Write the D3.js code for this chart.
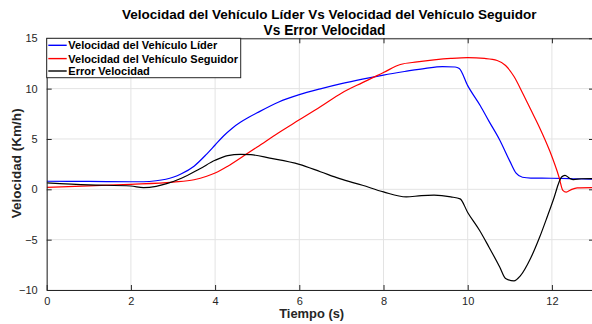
<!DOCTYPE html>
<html><head><meta charset="utf-8">
<script src="https://cdn.jsdelivr.net/npm/d3@7"></script>
<style>body{margin:0;background:#fff}svg{display:block}text{font-family:"Liberation Sans",Arial,Helvetica,sans-serif}</style>
</head><body><svg id="c" width="592" height="324"></svg>
<script>
// ---- data ----
const titleLines = ["Velocidad del Vehículo Líder Vs Velocidad del Vehículo Seguidor", "Vs Error Velocidad"];
const xLabel = "Tiempo (s)";
const yLabel = "Velocidad (Km/h)";
const seriesNames = ["Velocidad del Vehículo Líder", "Velocidad del Vehículo Seguidor", "Error Velocidad"];
const xTicks = [0, 2, 4, 6, 8, 10, 12];
const yTicks = [-10, -5, 0, 5, 10, 15];

const leaderT = [0, 1, 2, 2.3, 2.6, 3.0, 3.2, 3.5, 3.8, 4.0, 4.2, 4.4, 4.6, 4.8, 5.0, 5.5, 6.0, 6.5, 7.0, 7.5, 8.0, 8.5, 9.0, 9.4, 9.7, 9.8, 10.0, 10.3, 10.5, 10.76, 11.0, 11.15, 11.3, 11.5, 12.0, 12.5, 13.0];
const leaderV = [0.8, 0.78, 0.75, 0.75, 0.85, 1.2, 1.55, 2.3, 3.5, 4.4, 5.3, 6.05, 6.65, 7.15, 7.6, 8.65, 9.4, 9.98, 10.5, 10.95, 11.35, 11.7, 12.02, 12.18, 12.15, 12.0, 10.3, 8.3, 6.8, 4.9, 2.8, 1.6, 1.2, 1.12, 1.1, 1.05, 1.0];

const followerT = [0, 1, 2, 3, 3.5, 3.8, 4.0, 4.3, 4.7, 5.0, 5.5, 6.0, 6.5, 7.0, 7.5, 8.0, 8.4, 8.8, 9.2, 9.6, 10.0, 10.4, 10.7, 10.9, 11.1, 11.3, 11.5, 11.7, 11.95, 12.17, 12.26, 12.34, 12.45, 12.6, 13.0];
const followerV = [0.2, 0.35, 0.5, 0.72, 0.95, 1.3, 1.62, 2.3, 3.38, 4.2, 5.6, 6.9, 8.2, 9.55, 10.6, 11.6, 12.4, 12.65, 12.85, 13.0, 13.08, 13.0, 12.8, 12.3, 11.2, 9.6, 7.9, 6.2, 3.8, 1.2, -0.1, -0.28, -0.05, 0.15, 0.17];

const errorT = [0, 1, 2, 2.3, 2.6, 2.85, 3.2, 3.64, 4.0, 4.3, 4.6, 4.85, 5.3, 6.0, 6.5, 6.96, 7.5, 8.0, 8.54, 8.9, 9.2, 9.6, 9.82, 10.0, 10.28, 10.5, 10.76, 10.9, 11.1, 11.25, 11.5, 11.71, 11.9, 12.03, 12.23, 12.31, 12.42, 12.51, 12.7, 13.0];
const errorV = [0.65, 0.45, 0.33, 0.17, 0.3, 0.56, 1.1, 2.05, 2.88, 3.35, 3.47, 3.44, 3.1, 2.48, 1.75, 1.06, 0.4, -0.26, -0.76, -0.62, -0.58, -0.75, -0.95, -2.3, -4.07, -5.7, -7.71, -8.85, -9.1, -8.6, -6.8, -4.74, -2.6, -1.09, 1.22, 1.39, 1.1, 0.96, 1.05, 1.06];

const colors = ["#0000ff", "#ff0000", "#000000"];

// ---- layout ----
const svg = d3.select("#c");
const L = 46.7, R = 594, T = 38.3, B = 290;
const x = d3.scaleLinear().domain([0, 13]).range([L, R]);
const y = d3.scaleLinear().domain([-10, 15]).range([B, T]);
const axisCol = "#262626";

// grid
const g = svg.append("g");
g.selectAll(".gx").data(xTicks).enter().append("line")
  .attr("x1", d => x(d)).attr("x2", d => x(d)).attr("y1", T).attr("y2", B)
  .attr("stroke", "#e3e3e3").attr("stroke-width", 1);
g.selectAll(".gy").data(yTicks).enter().append("line")
  .attr("y1", d => y(d)).attr("y2", d => y(d)).attr("x1", L).attr("x2", R)
  .attr("stroke", "#e3e3e3").attr("stroke-width", 1);

// clip
svg.append("clipPath").attr("id", "clip").append("rect")
  .attr("x", L).attr("y", T).attr("width", R - L).attr("height", B - T);

const line = d3.line().x(d => x(d[0])).y(d => y(d[1])).curve(d3.curveMonotoneX);
const series = [d3.zip(leaderT, leaderV), d3.zip(followerT, followerV), d3.zip(errorT, errorV)];
const plot = svg.append("g").attr("clip-path", "url(#clip)");
series.forEach((s, i) => {
  plot.append("path").attr("d", line(s)).attr("fill", "none")
    .attr("stroke", colors[i]).attr("stroke-width", 1.2);
});

// axes (ticks inward, box)
function styleAxis(sel) {
  sel.select(".domain").attr("stroke", axisCol);
  sel.selectAll(".tick line").attr("stroke", axisCol);
  sel.selectAll(".tick text").attr("fill", axisCol).style("font-size", "11px")
    .style("font-family", '"Liberation Sans",Arial,sans-serif');
}
const ax = svg.append("g").attr("transform", `translate(0,${B})`)
  .call(d3.axisBottom(x).tickValues(xTicks).tickSizeInner(-5).tickSizeOuter(0).tickPadding(7).tickFormat(d3.format("d")));
styleAxis(ax);
ax.selectAll(".tick text").attr("dy", "0.71em");
const axTop = svg.append("g").attr("transform", `translate(0,${T})`)
  .call(d3.axisTop(x).tickValues(xTicks).tickSizeInner(-5).tickSizeOuter(0).tickFormat(""));
styleAxis(axTop);
const ay = svg.append("g").attr("transform", `translate(${L},0)`)
  .call(d3.axisLeft(y).tickValues(yTicks).tickSizeInner(-5).tickSizeOuter(0).tickPadding(9).tickFormat(d3.format("d")));
styleAxis(ay);
const ayR = svg.append("g").attr("transform", `translate(${R},0)`)
  .call(d3.axisRight(y).tickValues(yTicks).tickSizeInner(-5).tickSizeOuter(0).tickFormat(""));
styleAxis(ayR);

// fit text helper
function fit(t, w, base) {
  t.style("font-size", base + "px");
  const len = t.node().getComputedTextLength();
  t.style("font-size", (base * w / len) + "px");
  return t;
}

// title
const tl1 = svg.append("text").attr("x", 329.2).attr("y", 19).attr("text-anchor", "middle")
  .attr("font-weight", "bold").attr("fill", "#000").text(titleLines[0]);
fit(tl1, 415, 13);
const tl2 = svg.append("text").attr("x", 324.5).attr("y", 35).attr("text-anchor", "middle")
  .attr("font-weight", "bold").attr("fill", "#000").text(titleLines[1]);
fit(tl2, 122, 13);

// axis labels
const xl = svg.append("text").attr("x", 311.7).attr("y", 317.5).attr("text-anchor", "middle")
  .attr("font-weight", "bold").attr("fill", axisCol).text(xLabel);
fit(xl, 65, 13);
const yl = svg.append("text").attr("transform", "translate(21,163.3) rotate(-90)").attr("text-anchor", "middle")
  .attr("font-weight", "bold").attr("fill", axisCol).text(yLabel);
fit(yl, 110, 13);

// legend
const lg = svg.append("g");
lg.append("rect").attr("x", L).attr("y", T).attr("width", 240.7 - L).attr("height", 77.7 - T)
  .attr("fill", "#fff").attr("stroke", axisCol).attr("stroke-width", 1);
const rowY = [45.3, 58.6, 71];
let legendSize = null;
seriesNames.forEach((n, i) => {
  lg.append("line").attr("x1", 48.3).attr("x2", 66.7).attr("y1", rowY[i]).attr("y2", rowY[i])
    .attr("stroke", colors[i]).attr("stroke-width", 1.4);
  const t = lg.append("text").attr("x", 68.3).attr("y", rowY[i] + 4).attr("font-weight", "bold")
    .attr("fill", "#000").text(n);
  if (i === 1) { fit(t, 170, 11); legendSize = t.style("font-size"); }
});
lg.selectAll("text").style("font-size", legendSize);
</script></body></html>
